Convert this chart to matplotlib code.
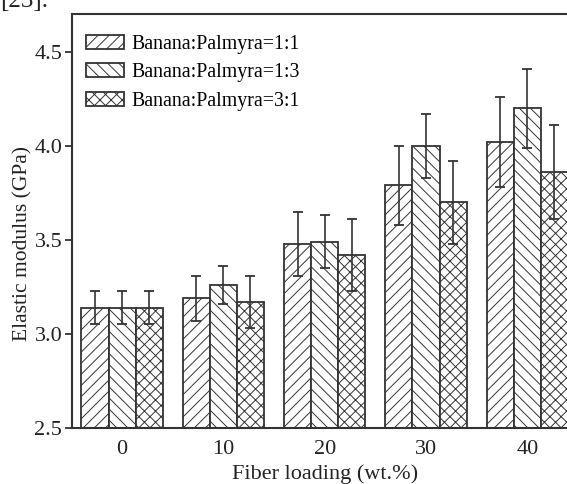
import matplotlib.pyplot as plt
import numpy as np

# --- dados ---
carga_fibra = [0, 10, 20, 30, 40]
series = ['Banana:Palmyra=1:1', 'Banana:Palmyra=1:3', 'Banana:Palmyra=3:1']

modulo_11 = [3.14, 3.19, 3.48, 3.79, 4.02]
modulo_13 = [3.14, 3.26, 3.49, 4.00, 4.20]
modulo_31 = [3.14, 3.17, 3.42, 3.70, 3.86]

erro_11 = [0.09, 0.12, 0.17, 0.21, 0.24]
erro_13 = [0.09, 0.10, 0.14, 0.17, 0.21]
erro_31 = [0.09, 0.14, 0.19, 0.22, 0.25]

y_ticks = [2.5, 3.0, 3.5, 4.0, 4.5]

plt.rcParams['font.family'] = ['Liberation Serif', 'DejaVu Serif']
plt.rcParams['hatch.color'] = '#a8a8a8'
plt.rcParams['hatch.linewidth'] = 0.7

fig = plt.figure(figsize=(5.67, 4.84), dpi=100)
# o original está cortado à direita, por isso o eixo passa da borda
ax = fig.add_axes([72 / 567, 56 / 484, 506 / 567, 414 / 484])

x = np.array(carga_fibra, dtype=float)
largura = 2.67
hachuras = ['///', '\\\\\\', 'xxx']
valores = [modulo_11, modulo_13, modulo_31]
erros = [erro_11, erro_13, erro_31]

for i, (nome, v, e, h) in enumerate(zip(series, valores, erros, hachuras)):
    pos = x + (i - 1) * largura
    ax.bar(pos, v, width=largura, color='white', edgecolor='#333333',
           linewidth=1.3, hatch=h, label=nome, zorder=2)
    ax.errorbar(pos, v, yerr=e, fmt='none', ecolor='#333333',
                elinewidth=1.2, capsize=3.3, capthick=1.3, zorder=3)

ax.set_xlim(-4.94, 45.0)
ax.set_ylim(2.5, 4.70)
ax.set_xticks(carga_fibra)
ax.set_xticklabels([str(c) for c in carga_fibra])
ax.set_yticks(y_ticks)
ax.set_yticklabels([f'{t:.1f}' for t in y_ticks])
ax.tick_params(axis='x', length=0, labelsize=16, pad=9, labelcolor='#222222')
ax.tick_params(axis='y', direction='out', length=5, width=1.3, labelsize=16,
               pad=2, colors='#333333', labelcolor='#222222')

for s in ax.spines.values():
    s.set_linewidth(1.5)
    s.set_color('#333333')

ax.set_xlabel('Fiber loading (wt.%)', fontsize=16, color='#222222')
ax.xaxis.set_label_coords(0.5, -0.088)
ax.set_ylabel('Elastic modulus (GPa)', fontsize=15.5, color='#222222')
ax.yaxis.set_label_coords(-0.078, 0.445)

leg = ax.legend(loc='upper left', frameon=False, fontsize=14.3,
                handlelength=1.9, handleheight=0.7, handletextpad=0.4,
                labelspacing=0.48, borderaxespad=0.0, borderpad=0.0,
                bbox_to_anchor=(0.0277, 0.950))

# fragmento de legenda cortado no topo da imagem
fig.text(0.0, 1 - 7 / 484, '[23].', fontsize=18, va='baseline', ha='left',
         color='#222222')

fig.savefig('out.png', dpi=100)
